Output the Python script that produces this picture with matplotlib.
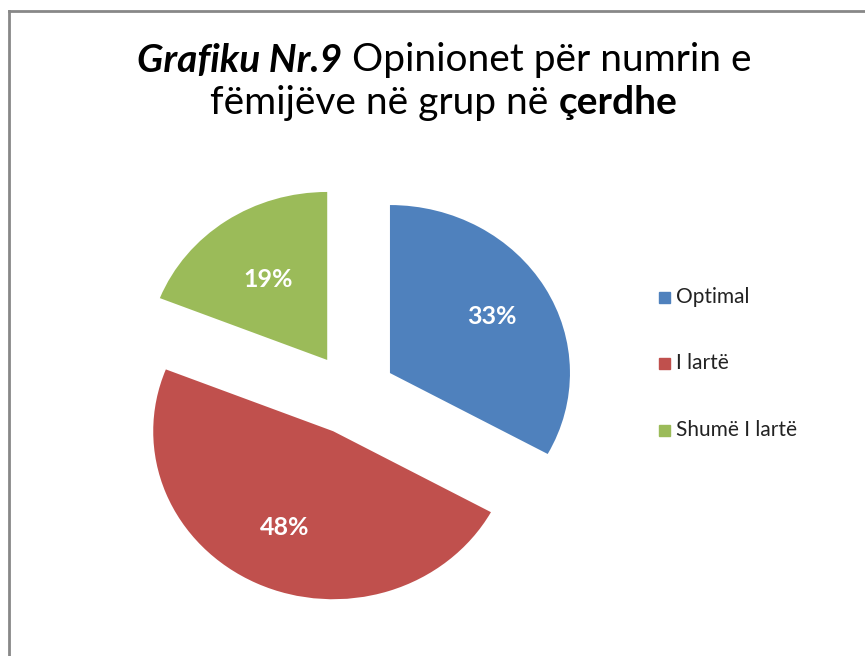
import matplotlib
matplotlib.use("Agg")
import numpy as np
import matplotlib.pyplot as plt
from matplotlib.lines import Line2D

labels = ["Optimal", "I lartë", "Shumë I lartë"]
shares = [33, 48, 19]
colors = ["#4F81BD", "#C0504D", "#9BBB59"]

title_line1 = [("Grafiku Nr.9", "bold", "italic"), (" Opinionet për numrin e", "normal", "normal")]
title_line2 = [("fëmijëve në grup në ", "normal", "normal"), ("çerdhe", "bold", "normal")]

FONT = "Lato"
W, H = 865, 656
fig = plt.figure(figsize=(W / 100, H / 100), dpi=100)

# pie axes: center (352, 394) px from top-left; the original is slightly
# stretched sideways, so radius is 180 px across and 168 px down
half = 230
RX, RY = 180, 168
ax = fig.add_axes([(352 - half) / W, (H - 394 - half) / H, 2 * half / W, 2 * half / H])
wedges, texts, autotexts = ax.pie(
    shares, colors=colors, startangle=90, counterclock=False,
    explode=[0.245] * 3, autopct="%d%%", pctdistance=0.64,
    textprops=dict(color="white", fontsize=18, fontweight="bold", family=FONT),
)
# per-slice label distance, like Excel's placement
for w, t, d in zip(wedges, autotexts, [0.66, 0.63, 0.58]):
    mid = np.deg2rad((w.theta1 + w.theta2) / 2)
    cx, cy = w.center
    t.set_position((cx + d * np.cos(mid), cy + d * np.sin(mid)))
ax.set_xlim(-half / RX, half / RX)
ax.set_ylim(-half / RY, half / RY)
ax.set_aspect("auto")
ax.axis("off")

# legend
leg_y = [297, 363, 430]
for lab, col, y in zip(labels, colors, leg_y):
    fig.patches.append(plt.Rectangle((659 / W, 1 - (y + 5.5) / H), 11 / W, 11 / H,
                                     transform=fig.transFigure, color=col))
    fig.text(676 / W, 1 - y / H, lab, fontsize=15, family=FONT, va="center", color="#222222")

# title pieces, centred per line
renderer = fig.canvas.get_renderer()


def title_line(parts, y_px, cx_px=444):
    objs = []
    for txt, weight, style in parts:
        t = fig.text(0, 1 - y_px / H, txt, fontsize=28, family=FONT,
                     fontweight=weight, fontstyle=style, va="center")
        objs.append(t)
    widths = [o.get_window_extent(renderer).width for o in objs]
    x = cx_px - sum(widths) / 2
    for o, w in zip(objs, widths):
        o.set_x(x / W)
        x += w


title_line(title_line1, 60)
title_line(title_line2, 103)

# chart frame (left and top edges visible)
fig.lines.append(Line2D([9 / W, 9 / W], [0, 1 - 11 / H], transform=fig.transFigure, color="#888888", lw=2))
fig.lines.append(Line2D([9 / W, 1], [1 - 11 / H, 1 - 11 / H], transform=fig.transFigure, color="#888888", lw=2))

fig.savefig("out.png", dpi=100)
